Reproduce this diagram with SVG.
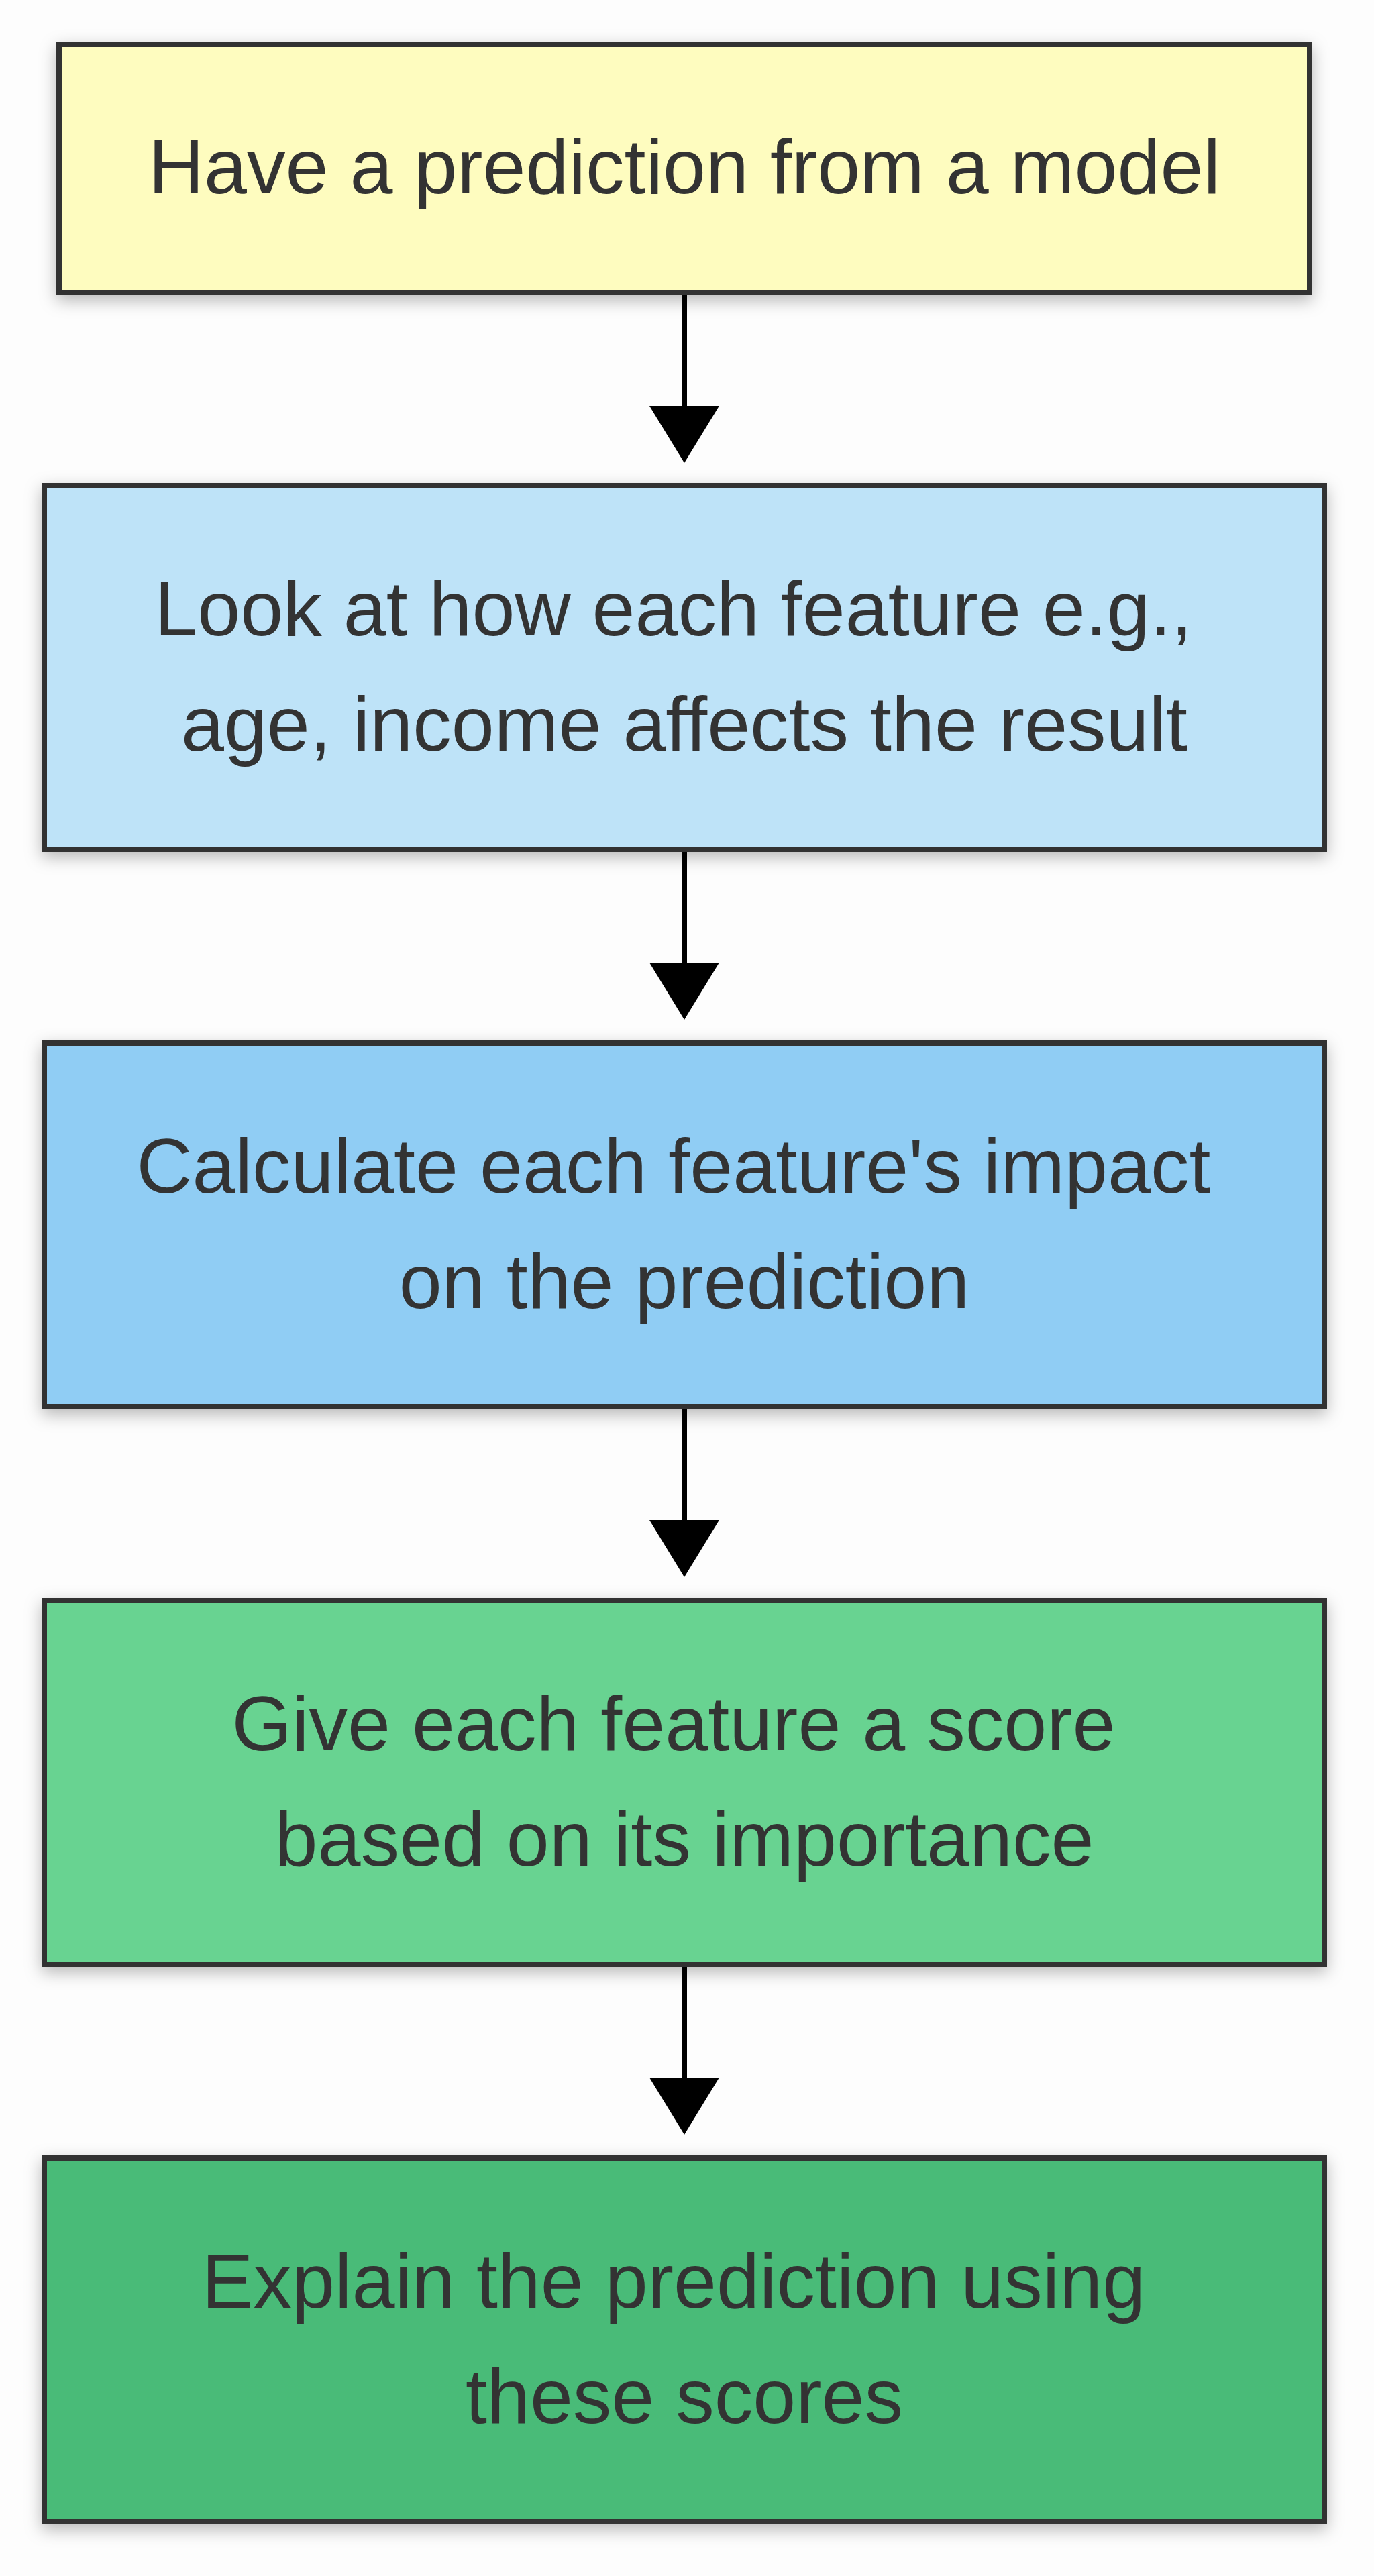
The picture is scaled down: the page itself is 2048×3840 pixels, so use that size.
<svg xmlns="http://www.w3.org/2000/svg" width="2048" height="3840" viewBox="0 0 2048 3840">
  <style>
    .box { stroke: #333333; stroke-width: 8; filter: url(#shadow); }
    .lbl { font-family: "Liberation Sans", Arial, sans-serif; font-size: 115px; fill: #333333; text-anchor: middle; }
    .edge { stroke: #000000; stroke-width: 8; fill: none; }
    .head { fill: #000000; }
  </style>
  <defs>
    <filter id="shadow" x="-10%" y="-20%" width="120%" height="140%">
      <feDropShadow dx="0" dy="8" stdDeviation="12" flood-color="#000000" flood-opacity="0.28"/>
    </filter>
  </defs>
  <rect x="0" y="0" width="2048" height="3840" fill="#FDFDFD"/>

  <g id="connectors">
    <g id="e1"><line class="edge" x1="1020" y1="440" x2="1020" y2="610"/><polygon class="head" points="968,605 1072,605 1020,690"/></g>
    <g id="e2"><line class="edge" x1="1020" y1="1270" x2="1020" y2="1440"/><polygon class="head" points="968,1435 1072,1435 1020,1520"/></g>
    <g id="e3"><line class="edge" x1="1020" y1="2101" x2="1020" y2="2271"/><polygon class="head" points="968,2266 1072,2266 1020,2351"/></g>
    <g id="e4"><line class="edge" x1="1020" y1="2932" x2="1020" y2="3102"/><polygon class="head" points="968,3097 1072,3097 1020,3182"/></g>
  </g>

  <g id="n1">
    <rect class="box" x="88" y="66" width="1864" height="370" fill="#FEFCBF"/>
    <text class="lbl" x="1020" y="288">Have a prediction from a model</text>
  </g>
  <g id="n2">
    <rect class="box" x="66" y="724" width="1908" height="542" fill="#BEE3F8"/>
    <text class="lbl" x="1004" y="947">Look at how each feature e.g.,</text>
    <text class="lbl" x="1020" y="1119">age, income affects the result</text>
  </g>
  <g id="n3">
    <rect class="box" x="66" y="1555" width="1908" height="542" fill="#90CDF4"/>
    <text class="lbl" x="1004" y="1778">Calculate each feature's impact</text>
    <text class="lbl" x="1020" y="1950">on the prediction</text>
  </g>
  <g id="n4">
    <rect class="box" x="66" y="2386" width="1908" height="542" fill="#68D391"/>
    <text class="lbl" x="1004" y="2609">Give each feature a score</text>
    <text class="lbl" x="1020" y="2781">based on its importance</text>
  </g>
  <g id="n5">
    <rect class="box" x="66" y="3217" width="1908" height="542" fill="#48BB78"/>
    <text class="lbl" x="1004" y="3440">Explain the prediction using</text>
    <text class="lbl" x="1020" y="3612">these scores</text>
  </g>
</svg>
